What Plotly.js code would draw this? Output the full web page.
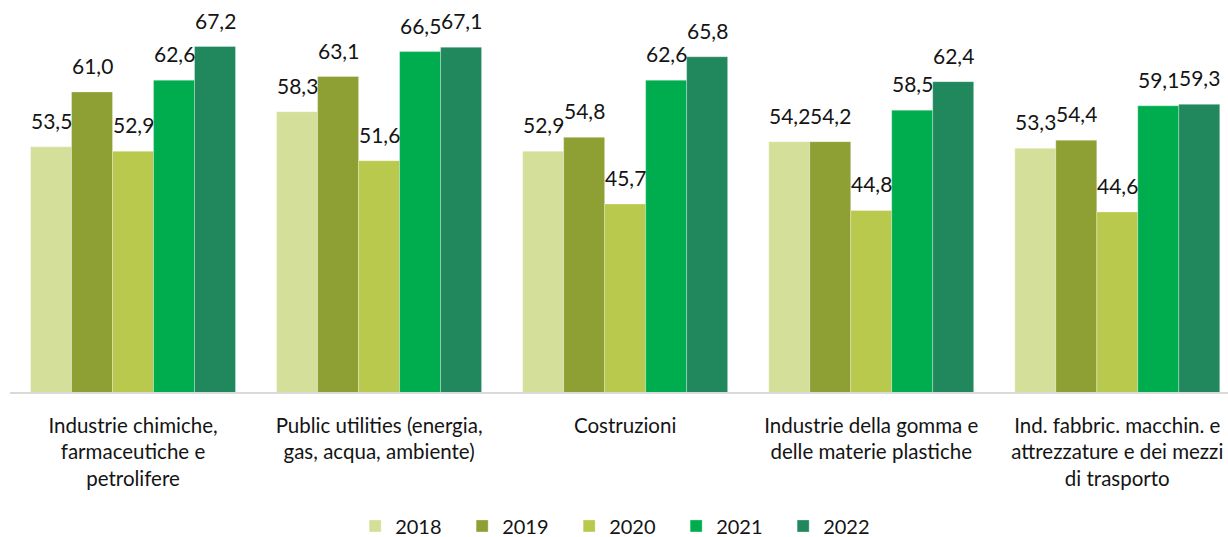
<!DOCTYPE html>
<html>
<head>
<meta charset="utf-8">
<script src="https://cdn.plot.ly/plotly-3.0.1.min.js"></script>
<style>html,body{margin:0;padding:0;overflow:hidden;background:#fff;}#chart{width:1228px;height:537px;}</style>
</head>
<body>
<div id="chart"></div>
<script>
const categories = [
  "Industrie chimiche,<br>farmaceutiche e<br>petrolifere",
  "Public utilities (energia,<br>gas, acqua, ambiente)",
  "Costruzioni",
  "Industrie della gomma e<br>delle materie plastiche",
  "Ind. fabbric. macchin. e<br>attrezzature e dei mezzi<br>di trasporto"
];
const years = ["2018", "2019", "2020", "2021", "2022"];
const v2018 = [53.5, 58.3, 52.9, 54.2, 53.3];
const v2019 = [61.0, 63.1, 54.8, 54.2, 54.4];
const v2020 = [52.9, 51.6, 45.7, 44.8, 44.6];
const v2021 = [62.6, 66.5, 62.6, 58.5, 59.1];
const v2022 = [67.2, 67.1, 65.8, 62.4, 59.3];
const series = [v2018, v2019, v2020, v2021, v2022];
const colors = ["#D4E09A", "#8EA034", "#B8C94E", "#00AD4E", "#20885C"];

const fmt = v => v.toFixed(1).replace(".", ",");
const FONT = "Lato, 'Open Sans', sans-serif";
const TXT = "#141414";

const traces = series.map((vals, i) => ({
  type: "bar",
  name: years[i],
  x: categories,
  y: vals,
  marker: {color: colors[i], line: {color: "rgba(255,255,255,0.6)", width: 0.5}},
  hoverinfo: "skip"
}));

// bar offsets: category width ~246 px, group width ~205 px, 5 bars of ~41 px
const barPx = 41;
const annotations = [];
series.forEach((vals, i) => {
  vals.forEach((v, j) => {
    annotations.push({
      x: categories[j], y: v, xref: "x", yref: "y",
      text: fmt(v), showarrow: false,
      xanchor: "center", yanchor: "bottom",
      xshift: (i - 2) * barPx, yshift: 12,
      font: {family: FONT, size: 21, color: TXT}
    });
  });
});

const layout = {
  width: 1228, height: 537,
  margin: {l: 10, r: 0, t: 26, b: 145, autoexpand: false},
  paper_bgcolor: "#fff", plot_bgcolor: "#fff",
  barmode: "group", bargap: 0.167, bargroupgap: 0,
  showlegend: true,
  legend: {
    orientation: "h", x: 0.503, xanchor: "center", y: -0.366, yanchor: "middle",
    font: {family: FONT, size: 20, color: TXT},
    entrywidth: 62, entrywidthmode: "pixels", traceorder: "normal"
  },
  xaxis: {
    type: "category", range: [-0.5, 4.45], automargin: false,
    showline: true, linecolor: "#D9D9D9", linewidth: 2,
    ticks: "", showgrid: false, zeroline: false,
    tickfont: {family: FONT, size: 20.5, color: TXT},
    ticklabelstandoff: 14
  },
  yaxis: {
    range: [20, 70], visible: false, showgrid: false, zeroline: false, automargin: false
  },
  annotations: annotations
};

Plotly.newPlot("chart", traces, layout, {displayModeBar: false, staticPlot: true});
</script>
</body>
</html>
